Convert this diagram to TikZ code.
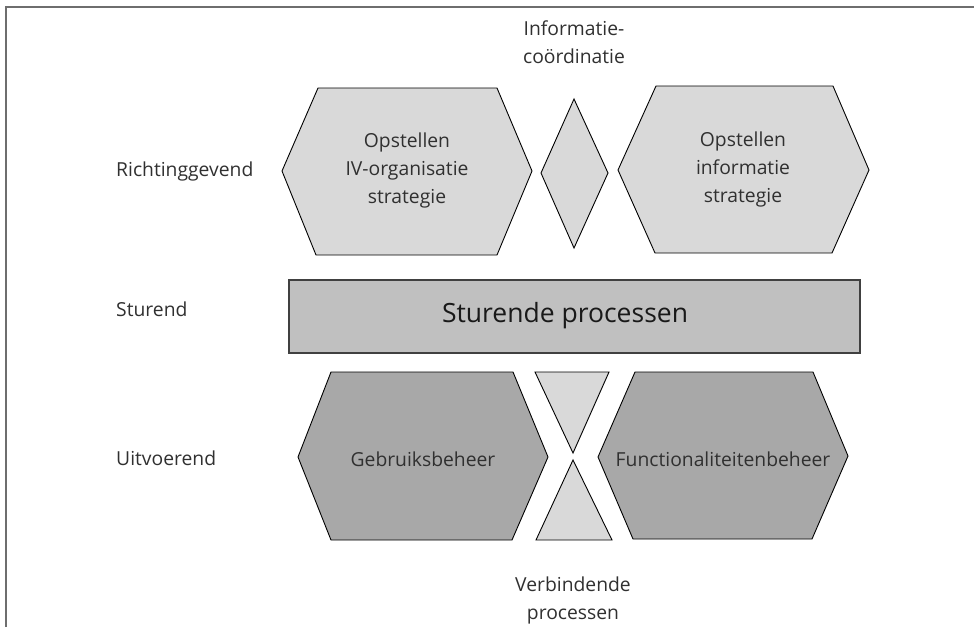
\documentclass[tikz,border=0pt]{standalone}
\usepackage{fontspec}
\setmainfont{Open Sans}
\definecolor{paleg}{HTML}{D9D9D9}
\definecolor{midg}{HTML}{C0C0C0}
\definecolor{darkg}{HTML}{A8A8A8}
\definecolor{ink}{HTML}{303030}
\definecolor{framec}{HTML}{6E6E6E}
\tikzset{
  shapeline/.style={draw=black, line width=0.9pt, line join=miter},
  pale/.style={shapeline, fill=paleg},
  dark/.style={shapeline, fill=darkg},
  bar/.style={draw=black!75, line width=1.1pt, fill=midg},
  txt/.style={text=ink, font=\fontsize{19.3}{28}\selectfont, align=center, inner sep=0pt},
  rowlabel/.style={txt, anchor=west},
  bigtxt/.style={text=black!90, font=\fontsize{26.5}{30}\selectfont, inner sep=0pt},
}
\begin{document}
\begin{tikzpicture}[x=1pt, y=-1pt]
\useasboundingbox (0,0) rectangle (974,627);

% open frame: top and left edges only
\draw[framec, line width=1.6pt] (6,627) -- (6,7) -- (974,7);

% row labels
\node[rowlabel] (lr) at (116,171) {Richtinggevend};
\node[rowlabel] (ls) at (116,309) {Sturend};
\node[rowlabel] (lu) at (116,458) {Uitvoerend};

% upper row: strategy hexagons with coordination diamond between
\draw[pale] (282,171) -- (318,88) -- (497,88) -- (532,171) -- (497,255) -- (316,255) -- cycle;
\draw[pale] (574,99) -- (608,173) -- (574,248) -- (541,173) -- cycle;
\draw[pale] (618,170) -- (656,86) -- (833,86) -- (869,170) -- (832,253) -- (655,253) -- cycle;
\node[txt] (ivs) at (407,170) {Opstellen\\IV-organisatie\\strategie};
\node[txt] (infs) at (743,169) {Opstellen\\informatie\\strategie};
\node[txt] (coord) at (574,42) {Informatie-\\coördinatie};

% middle row: steering bar
\draw[bar] (289,280) rectangle (860,353);
\node[bigtxt] (stp) at (565,316) {Sturende processen};

% lower row: management hexagons with connecting hourglass
\draw[dark] (298,457) -- (331,372) -- (513,372) -- (548,457) -- (512,540) -- (331,540) -- cycle;
\draw[pale] (535,372) -- (609,372) -- (573,453) -- cycle;
\draw[pale] (573,460) -- (612,540) -- (536,540) -- cycle;
\draw[dark] (598,457) -- (635,372) -- (813,372) -- (848,456) -- (812,539) -- (633,539) -- cycle;
\node[txt] (gb) at (423,459) {Gebruiksbeheer};
\node[txt] (fb) at (723,459) {Functionaliteitenbeheer};
\node[txt] (vp) at (573,600) {Verbindende\\processen};
\end{tikzpicture}
\end{document}
